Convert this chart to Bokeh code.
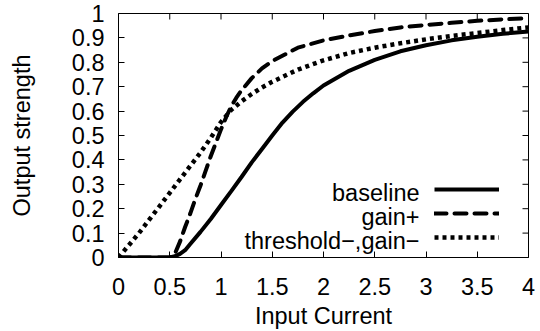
import math
from bokeh.plotting import figure
from bokeh.models import (Range1d, FixedTicker, Legend, LegendItem, Label)
from bokeh.embed import file_html
from bokeh.resources import INLINE

# ---- data ----
x_ticks = [0, 0.5, 1, 1.5, 2, 2.5, 3, 3.5, 4]
x_tick_labels = ["0", "0.5", "1", "1.5", "2", "2.5", "3", "3.5", "4"]
y_ticks = [0, 0.1, 0.2, 0.3, 0.4, 0.5, 0.6, 0.7, 0.8, 0.9, 1]
y_tick_labels = ["0", "0.1", "0.2", "0.3", "0.4", "0.5", "0.6", "0.7", "0.8", "0.9", "1"]

baseline_x = [0, 0.5, 0.55, 0.6, 0.65, 0.7, 0.8, 0.9, 1.0, 1.1, 1.2, 1.3, 1.4, 1.5, 1.6,
              1.7, 1.8, 1.9, 2.0, 2.25, 2.5, 2.75, 3.0, 3.25, 3.5, 3.75, 4.0]
baseline_y = [0, 0, 0.005, 0.015, 0.03, 0.055, 0.105, 0.158, 0.215, 0.272, 0.33, 0.39, 0.445,
              0.5, 0.553, 0.598, 0.638, 0.673, 0.705, 0.765, 0.81, 0.845, 0.87, 0.89, 0.905,
              0.917, 0.926]

gain_x = [0, 0.5, 0.55, 0.6, 0.65, 0.7, 0.75, 0.8, 0.85, 0.9, 0.95, 1.0, 1.05, 1.1, 1.15,
          1.2, 1.3, 1.4, 1.5, 1.75, 2.0, 2.25, 2.5, 2.75, 3.0, 3.25, 3.5, 3.75, 4.0]
gain_y = [0, 0, 0.015, 0.065, 0.125, 0.18, 0.24, 0.295, 0.355, 0.415, 0.47, 0.525, 0.575,
          0.62, 0.655, 0.685, 0.735, 0.775, 0.805, 0.86, 0.89, 0.91, 0.928, 0.943, 0.953,
          0.962, 0.97, 0.976, 0.981]

thresh_x = [0, 0.1, 0.2, 0.3, 0.4, 0.5, 0.6, 0.7, 0.8, 0.9, 1.0, 1.1, 1.2, 1.3, 1.4, 1.5,
            1.75, 2.0, 2.25, 2.5, 2.75, 3.0, 3.25, 3.5, 3.75, 4.0]
thresh_y = [0, 0.05, 0.1, 0.155, 0.21, 0.265, 0.32, 0.375, 0.43, 0.49, 0.555, 0.605, 0.64,
            0.67, 0.697, 0.72, 0.77, 0.808, 0.838, 0.86, 0.878, 0.894, 0.908, 0.92, 0.932,
            0.943]

series_names = ["baseline", "gain+", "threshold\u2212,gain\u2212"]

FONT = "Liberation Sans"
FS = "23.5px"

x_min, x_max = x_ticks[0], x_ticks[-1]
y_min, y_max = y_ticks[0], y_ticks[-1]

p = figure(width=540, height=331, output_backend="svg", toolbar_location=None,
           x_range=Range1d(x_min, x_max), y_range=Range1d(y_min, y_max),
           min_border_left=118, min_border_right=12, min_border_top=13, min_border_bottom=74)
p.background_fill_color = "white"
p.border_fill_color = "white"
p.outline_line_color = "black"
p.outline_line_width = 1
p.outline_line_alpha = 1
p.xgrid.visible = False
p.ygrid.visible = False

r1 = p.line(baseline_x, baseline_y, line_color="black", line_width=4)
r2 = p.line(gain_x, gain_y, line_color="black", line_width=4, line_dash="12 8", line_cap="round")
r3 = p.line(thresh_x, thresh_y, line_color="black", line_width=4.5, line_dash="4 4")

# mirrored inward ticks on the right and top edges (clipped to the frame)
p.scatter(x=[x_max] * len(y_ticks), y=y_ticks, marker="dash", size=12, angle=0,
          line_color="black", line_width=1)
p.scatter(x=x_ticks, y=[y_max] * len(x_ticks), marker="dash", size=12, angle=math.pi / 2,
          line_color="black", line_width=1)

def style_axis(ax, ticks, labels):
    ax.ticker = FixedTicker(ticks=ticks)
    ax.major_label_overrides = {t: l for t, l in zip(ticks, labels)}
    ax.axis_line_color = None
    ax.major_tick_in = 6
    ax.major_tick_out = 0
    ax.major_tick_line_color = "black"
    ax.minor_tick_line_color = None
    ax.major_label_text_font = FONT
    ax.major_label_text_color = "black"
    ax.major_label_text_font_size = FS
    ax.axis_label_text_font = FONT
    ax.axis_label_text_font_size = FS
    ax.axis_label_text_font_style = "normal"
    ax.axis_label_text_color = "black"

xa = p.xaxis[0]
ya = p.yaxis[0]
style_axis(xa, x_ticks, x_tick_labels)
style_axis(ya, y_ticks, y_tick_labels)
xa.axis_label = "Input Current"
ya.axis_label = "Output strength"
xa.major_label_standoff = 20
xa.axis_label_standoff = 5
ya.major_label_standoff = 14
ya.axis_label_standoff = 34

legend = Legend(items=[LegendItem(label=" ", renderers=[r]) for r in (r1, r2, r3)],
                location=(316, 10), glyph_width=65, glyph_height=20, label_width=0,
                label_height=20, label_standoff=0, spacing=4, padding=0, margin=0,
                border_line_alpha=0, background_fill_alpha=0, label_text_font_size="8px")
p.add_layout(legend, "center")

legend_text_y = [0.263, 0.167, 0.068]
for name, ly in zip(series_names, legend_text_y):
    p.add_layout(Label(x=2.937, y=ly, text=name, text_align="right", text_baseline="middle",
                       text_font=FONT, text_font_size=FS, text_color="black"))

open("out.html", "w").write(file_html(p, INLINE))
